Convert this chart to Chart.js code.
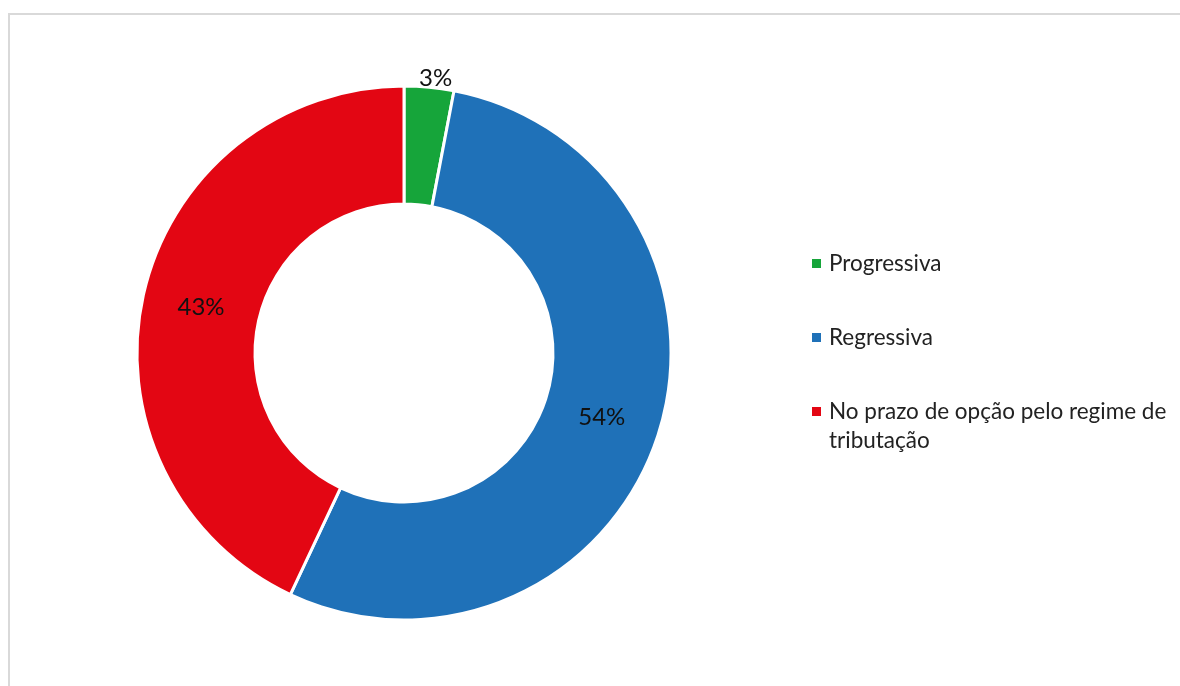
<!DOCTYPE html>
<html>
<head>
<meta charset="utf-8">
<script src="https://cdn.jsdelivr.net/npm/chart.js@4"></script>
<style>
  html, body { margin: 0; padding: 0; background: #fff; }
  body { width: 1180px; height: 686px; position: relative; overflow: hidden; font-family: Lato, "Noto Sans", sans-serif; }
  .frame { position: absolute; left: 8px; top: 13px; width: 1200px; height: 700px; border: 2px solid #d9d9d9; box-sizing: border-box; }
  #chart { position: absolute; left: 0; top: 0; }
  #legend { position: absolute; left: 812px; top: 248px; width: 360px; color: #222; font-size: 22.5px; line-height: 29px; }
  .item { display: flex; align-items: flex-start; margin-bottom: 45px; }
  .box { width: 9px; height: 9px; margin-top: 11px; margin-right: 8px; flex: none; }
</style>
</head>
<body>
<div class="frame"></div>
<canvas id="chart" width="1180" height="686"></canvas>
<div id="legend"></div>
<script>
// ── data ──
const labels = ['Progressiva', 'Regressiva', 'No prazo de opção pelo regime de tributação'];
const values = [3, 54, 43];
const colors = ['#16a53a', '#1f71b8', '#e30613'];

// percentage labels drawn on the arcs (3% sits just outside the ring)
const sliceLabels = {
  id: 'sliceLabels',
  afterDatasetsDraw(chart) {
    const ctx = chart.ctx;
    const meta = chart.getDatasetMeta(0);
    const total = values.reduce((a, b) => a + b, 0);
    ctx.save();
    ctx.font = '24px Lato, "Noto Sans", sans-serif';
    ctx.fillStyle = '#111';
    ctx.textAlign = 'center';
    ctx.textBaseline = 'middle';
    meta.data.forEach((arc, i) => {
      const p = arc.getProps(['x', 'y', 'startAngle', 'endAngle', 'innerRadius', 'outerRadius'], true);
      const mid = (p.startAngle + p.endAngle) / 2;
      const pct = Math.round(values[i] / total * 100);
      const r = pct < 5 ? p.outerRadius + 10 : (p.innerRadius + p.outerRadius) / 2;
      const a = pct < 5 ? mid + 0.02 : mid;
      ctx.fillText(pct + '%', p.x + Math.cos(a) * r, p.y + Math.sin(a) * r);
    });
    ctx.restore();
  }
};

new Chart(document.getElementById('chart'), {
  type: 'doughnut',
  data: {
    labels: labels,
    datasets: [{
      data: values,
      backgroundColor: colors,
      borderColor: '#ffffff',
      borderWidth: 3
    }]
  },
  options: {
    responsive: false,
    animation: false,
    radius: 267,
    cutout: '55.8%',
    layout: { padding: { left: 0, right: 372, top: 20, bottom: 0 } },
    plugins: { legend: { display: false }, tooltip: { enabled: false } }
  },
  plugins: [sliceLabels]
});

// ── legend (html so the long label can wrap) ──
const legendEl = document.getElementById('legend');
labels.forEach((l, i) => {
  const row = document.createElement('div');
  row.className = 'item';
  row.innerHTML = '<span class="box" style="background:' + colors[i] + '"></span><span>' + l + '</span>';
  legendEl.appendChild(row);
});
</script>
</body>
</html>
